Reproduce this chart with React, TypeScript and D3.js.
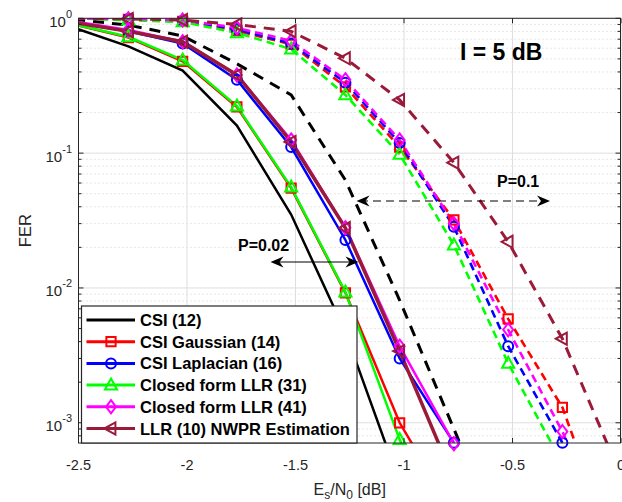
import React from "react";
import * as d3 from "d3";

// Es/N0 points (dB)
const esn0 = [-2.52, -2.27, -2.02, -1.77, -1.52, -1.27, -1.02, -0.77, -0.52, -0.27, -0.02];

// P = 0.02 (solid)
const csiP02 = [0.85, 0.62, 0.41, 0.16, 0.035, 0.0047, 0.00036, null, null, null, null];
const gaussP02 = [0.9, 0.72, 0.48, 0.22, 0.055, 0.0092, 0.001, 0.00021, null, null, null];
const laplP02 = [0.93, 0.8, 0.65, 0.35, 0.111, 0.0227, 0.003, 0.00071, null, null, null];
const cf31P02 = [0.9, 0.73, 0.49, 0.223, 0.056, 0.0093, 0.00075, 0.0001, null, null, null];
const cf41P02 = [0.95, 0.82, 0.67, 0.38, 0.125, 0.028, 0.0037, 0.0007, null, null, null];
const nwprP02 = [0.93, 0.8, 0.67, 0.38, 0.121, 0.0278, 0.0034, 0.00038, null, null, null];

// P = 0.1 (dashed)
const csiP1 = [0.98, 0.89, 0.74, 0.46, 0.27, 0.063, 0.0081, 0.0009, 0.0001, null, null];
const gaussP1 = [1.0, 0.98, 0.95, 0.81, 0.64, 0.31, 0.111, 0.032, 0.0059, 0.0013, 0.0001];
const laplP1 = [1.0, 0.99, 0.96, 0.83, 0.65, 0.333, 0.119, 0.0284, 0.0037, 0.00071, null];
const cf31P1 = [1.0, 0.97, 0.94, 0.78, 0.59, 0.27, 0.098, 0.0208, 0.00276, 0.0005, null];
const cf41P1 = [1.0, 0.99, 0.97, 0.85, 0.68, 0.35, 0.125, 0.03, 0.0049, 0.00086, 0.0001];
const nwprP1 = [1.0, 0.99, 0.97, 0.9, 0.8, 0.505, 0.248, 0.085, 0.022, 0.0042, 0.00048];

const legendLabels = [
  "CSI (12)",
  "CSI Gaussian (14)",
  "CSI Laplacian (16)",
  "Closed form LLR (31)",
  "Closed form LLR (41)",
  "LLR (10) NWPR Estimation",
];
const xTicks = [-2.5, -2, -1.5, -1, -0.5, 0];
const yTickExps = [0, -1, -2, -3];

const BROWN = "#9a1a3a";
const AX = "#262626";

type Marker = "none" | "square" | "circle" | "triangle" | "diamond" | "left";

const styles: { color: string; marker: Marker; w: number; wd: number; dash: string }[] = [
  { color: "#000000", marker: "none", w: 2.5, wd: 3, dash: "11,8" },
  { color: "#ff0000", marker: "square", w: 2.5, wd: 2.6, dash: "8,5" },
  { color: "#0000ff", marker: "circle", w: 2.5, wd: 2.6, dash: "8,5" },
  { color: "#00ff00", marker: "triangle", w: 2.5, wd: 2.6, dash: "8,5" },
  { color: "#ff00ff", marker: "diamond", w: 2.5, wd: 2.6, dash: "8,5" },
  { color: BROWN, marker: "left", w: 3.5, wd: 3, dash: "11,8" },
];

const solidSeries = [csiP02, gaussP02, laplP02, cf31P02, cf41P02, nwprP02];
const dashedSeries = [csiP1, gaussP1, laplP1, cf31P1, cf41P1, nwprP1];

const FONT = "'Liberation Sans', Arial, Helvetica, sans-serif";

function markerPath(m: Marker, s: number): string {
  switch (m) {
    case "square":
      return `M${-s * 0.42},${-s * 0.42}h${s * 0.84}v${s * 0.84}h${-s * 0.84}Z`;
    case "triangle":
      return `M0,${-s * 0.6}L${s * 0.55},${s * 0.4}L${-s * 0.55},${s * 0.4}Z`;
    case "diamond":
      return `M0,${-s * 0.6}L${s * 0.45},0L0,${s * 0.6}L${-s * 0.45},0Z`;
    case "left":
      return `M${-s * 0.6},0L${s * 0.4},${-s * 0.55}L${s * 0.4},${s * 0.55}Z`;
    default:
      return "";
  }
}

function MarkerShape({ m, x, y, color }: { m: Marker; x: number; y: number; color: string }) {
  if (m === "none") return null;
  if (m === "circle")
    return <circle cx={x} cy={y} r={5} fill="none" stroke={color} strokeWidth={2} />;
  return (
    <path
      d={markerPath(m, 11)}
      transform={`translate(${x},${y})`}
      fill="none"
      stroke={color}
      strokeWidth={2}
      strokeLinejoin="miter"
    />
  );
}

function arrowHead(tipX: number, tipY: number, dir: number): string {
  // dir = 1 points right, -1 points left
  const L = 13;
  const W = 5.5;
  const N = 9;
  return `M${tipX},${tipY}L${tipX - dir * L},${tipY - W}L${tipX - dir * N},${tipY}L${tipX - dir * L},${tipY + W}Z`;
}

export default function App() {
  const width = 622;
  const height = 502;
  const m = { left: 78.5, right: 620.5, top: 18.3, bottom: 443 };

  const x = d3.scaleLinear().domain([-2.5, 0]).range([m.left, 621]);
  const y = d3.scaleLog().domain([7.08e-4, 1]).range([m.bottom, m.top]);

  const line = (vals: (number | null)[]) =>
    d3
      .line<number>()
      .defined((_, i) => vals[i] != null)
      .x((_, i) => x(esn0[i]))
      .y((_, i) => y(vals[i] as number))(esn0) || "";

  const inDomain = (xi: number, v: number | null) =>
    v != null && xi >= -2.5 && xi <= 0 && v >= 7.0e-4 && v <= 1.0001;

  const minorY: number[] = [];
  for (let e = -4; e < 0; e++) {
    for (let k = 2; k <= 9; k++) {
      const v = k * Math.pow(10, e);
      if (v >= 7.08e-4 && v < 1) minorY.push(v);
    }
  }

  const lg = { x: 81.5, y: 306, w: 275.5, h: 137, rowY: 320, step: 21.7 };

  return (
    <svg width={width} height={height} style={{ position: "absolute", left: 0, top: 0 }}>
      <defs>
        <clipPath id="plotclip">
          <rect x={m.left} y={m.top} width={m.right - m.left} height={m.bottom - m.top} />
        </clipPath>
      </defs>
      <rect x={0} y={0} width={width} height={height} fill="#fff" />

      {/* grid */}
      <g>
        {minorY.map((v) => (
          <line
            key={"my" + v}
            x1={m.left}
            x2={m.right}
            y1={y(v)}
            y2={y(v)}
            stroke="#cfcfcf"
            strokeWidth={1}
            strokeDasharray="1,3"
          />
        ))}
        {yTickExps.map((e) => (
          <line
            key={"gy" + e}
            x1={m.left}
            x2={m.right}
            y1={y(Math.pow(10, e))}
            y2={y(Math.pow(10, e))}
            stroke="#dedede"
            strokeWidth={1}
          />
        ))}
        {xTicks.map((t) => (
          <line key={"gx" + t} x1={x(t)} x2={x(t)} y1={m.top} y2={m.bottom} stroke="#dedede" strokeWidth={1} />
        ))}
      </g>

      {/* curves */}
      <g clipPath="url(#plotclip)" fill="none">
        {dashedSeries.map((vals, si) => (
          <path
            key={"d" + si}
            d={line(vals)}
            stroke={styles[si].color}
            strokeWidth={styles[si].wd}
            strokeDasharray={styles[si].dash}
          />
        ))}
        {solidSeries.map((vals, si) => (
          <path key={"s" + si} d={line(vals)} stroke={styles[si].color} strokeWidth={styles[si].w} />
        ))}
      </g>
      <g>
        {dashedSeries.map((vals, si) =>
          vals.map((v, i) =>
            inDomain(esn0[i], v) ? (
              <MarkerShape key={`dm${si}-${i}`} m={styles[si].marker} x={x(esn0[i])} y={y(v as number)} color={styles[si].color} />
            ) : null
          )
        )}
        {solidSeries.map((vals, si) =>
          vals.map((v, i) =>
            inDomain(esn0[i], v) ? (
              <MarkerShape key={`sm${si}-${i}`} m={styles[si].marker} x={x(esn0[i])} y={y(v as number)} color={styles[si].color} />
            ) : null
          )
        )}
      </g>

      {/* axes box and ticks */}
      <g stroke={AX} strokeWidth={1}>
        <rect x={m.left} y={m.top} width={m.right - m.left} height={m.bottom - m.top} fill="none" />
        {xTicks.map((t) => (
          <g key={"tx" + t}>
            <line x1={x(t)} x2={x(t)} y1={m.bottom} y2={m.bottom - 5} />
            <line x1={x(t)} x2={x(t)} y1={m.top} y2={m.top + 5} />
          </g>
        ))}
        {yTickExps.map((e) => (
          <g key={"ty" + e}>
            <line x1={m.left} x2={m.left + 5} y1={y(Math.pow(10, e))} y2={y(Math.pow(10, e))} />
            <line x1={m.right} x2={m.right - 5} y1={y(Math.pow(10, e))} y2={y(Math.pow(10, e))} />
          </g>
        ))}
        {minorY.map((v) => (
          <g key={"tm" + v}>
            <line x1={m.left} x2={m.left + 3} y1={y(v)} y2={y(v)} />
            <line x1={m.right} x2={m.right - 3} y1={y(v)} y2={y(v)} />
          </g>
        ))}
      </g>

      {/* tick labels */}
      <g fontFamily={FONT} fill={AX} fontSize={14.5}>
        {xTicks.map((t) => (
          <text key={"lx" + t} x={x(t)} y={469.5} textAnchor="middle">
            {t === 0 ? "0" : String(t)}
          </text>
        ))}
        {yTickExps.map((e) => (
          <text key={"ly" + e} x={72} y={y(Math.pow(10, e)) + 8.5} textAnchor="end" fontSize={15}>
            <tspan>10</tspan>
            <tspan dy={-9} fontSize={11}>
              {e === 0 ? "0" : "-" + Math.abs(e)}
            </tspan>
          </text>
        ))}
      </g>

      {/* axis labels */}
      <text
        fontFamily={FONT}
        fontSize={16.5}
        fill={AX}
        textAnchor="middle"
        transform={`translate(31,${(m.top + m.bottom) / 2}) rotate(-90)`}
      >
        FER
      </text>
      <text fontFamily={FONT} fontSize={16} fill={AX} x={(m.left + 621) / 2} y={495} textAnchor="middle">
        E
        <tspan dy={4} fontSize={12}>
          s
        </tspan>
        <tspan dy={-4}>/N</tspan>
        <tspan dy={4} fontSize={12}>
          0
        </tspan>
        <tspan dy={-4}> [dB]</tspan>
      </text>

      {/* annotations */}
      <text fontFamily={FONT} fontWeight="bold" fontSize={23} fill="#000" x={460} y={60}>
        I = 5 dB
      </text>
      <text fontFamily={FONT} fontWeight="bold" fontSize={16} fill="#000" x={497} y={187}>
        P=0.1
      </text>
      <text fontFamily={FONT} fontWeight="bold" fontSize={16} fill="#000" x={238} y={251}>
        P=0.02
      </text>
      <line x1={360} x2={546} y1={201} y2={201} stroke="#000" strokeWidth={1.2} strokeDasharray="8,5" />
      <path d={arrowHead(356.5, 201, -1)} fill="#000" />
      <path d={arrowHead(550, 201, 1)} fill="#000" />
      <line x1={274} x2={354} y1={262} y2={262} stroke="#000" strokeWidth={1.2} />
      <path d={arrowHead(270.5, 262, -1)} fill="#000" />
      <path d={arrowHead(358.5, 262, 1)} fill="#000" />

      {/* legend */}
      <g>
        <rect x={lg.x} y={lg.y} width={lg.w} height={lg.h} fill="#fff" stroke={AX} strokeWidth={1.2} />
        {legendLabels.map((lab, i) => {
          const ly = lg.rowY + i * lg.step;
          const st = styles[i];
          return (
            <g key={"lg" + i}>
              <line x1={86.5} x2={135} y1={ly} y2={ly} stroke={st.color} strokeWidth={3} />
              <MarkerShape m={st.marker} x={111} y={ly} color={st.color} />
              <text fontFamily={FONT} fontWeight="bold" fontSize={16.5} fill="#000" x={140} y={ly + 6}>
                {lab}
              </text>
            </g>
          );
        })}
      </g>
    </svg>
  );
}
